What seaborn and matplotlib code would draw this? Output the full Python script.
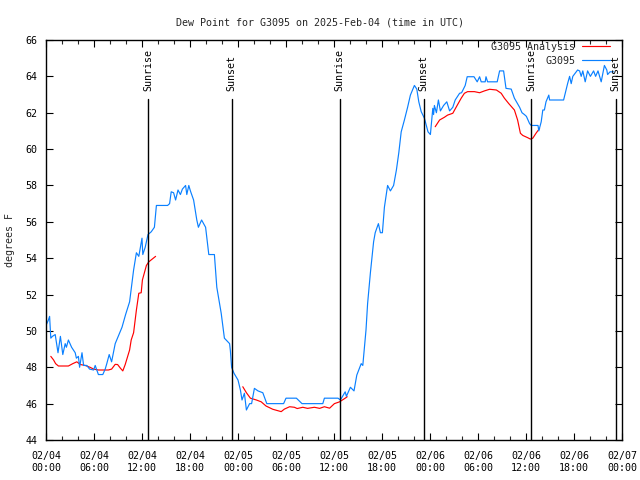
import numpy as np
import pandas as pd
import matplotlib
matplotlib.use("Agg")
import matplotlib.pyplot as plt
import matplotlib.dates as mdates
from matplotlib.lines import Line2D
import seaborn as sns

# ------------------------------------------------------------------
# Data (hours since 2025-02-04 00:00 UTC, dew point in degrees F)
# ------------------------------------------------------------------
START = pd.Timestamp("2025-02-04 00:00")

obs_hours = [
    0.0, 0.3, 0.45, 0.6, 0.8, 1.15, 1.5, 1.8, 2.1, 2.4, 2.55, 2.8, 3.2, 3.65,
    3.8, 4.05, 4.2, 4.5, 4.7, 5.1, 5.45, 5.95, 6.15, 6.55, 7.1, 7.4, 7.6, 7.9,
    8.2, 8.65, 9.5, 9.95, 10.45, 10.95, 11.3, 11.6, 12.0, 12.1, 12.4, 12.75,
    13.15, 13.55, 13.8, 15.2, 15.45, 15.65, 15.95, 16.2, 16.5, 16.8, 17.05,
    17.45, 17.6, 17.85, 18.05, 18.45, 18.85, 19.05, 19.45, 19.95, 20.35, 21.05,
    21.35, 21.9, 22.3, 22.95, 23.05, 23.2, 23.5, 24.0, 24.3, 24.5, 24.8, 25.05,
    25.45, 25.7, 26.05, 26.5, 27.1, 27.6, 29.7, 30.0, 31.3, 32.0, 34.6, 34.8,
    36.5, 36.8, 37.4, 37.55, 38.05, 38.5, 38.85, 39.4, 39.6, 39.8, 40.0, 40.2,
    40.55, 40.8, 40.95, 41.15, 41.55, 41.8, 42.05, 42.3, 42.7, 43.05, 43.45,
    43.8, 44.1, 44.4, 44.8, 45.2, 45.55, 46.05, 46.35, 46.6, 46.9, 47.3, 47.75,
    48.05, 48.35, 48.45, 48.55, 48.8, 49.05, 49.3, 49.7, 50.1, 50.45, 50.85,
    51.15, 51.7, 51.95, 52.4, 52.65, 53.5, 53.9, 54.2, 54.4, 54.9, 55.0, 55.2,
    56.4, 56.7, 57.2, 57.5, 58.15, 58.55, 59.2, 59.5, 59.8, 60.05, 60.45,
    60.65, 61.5, 61.6, 61.9, 62.1, 62.3, 62.5, 62.85, 62.95, 64.7, 64.95,
    65.2, 65.45, 65.65, 65.85, 66.45, 66.7, 66.9, 67.1, 67.4, 67.7, 68.05,
    68.45, 68.7, 69.0, 69.4, 69.8, 70.1, 70.2, 70.5, 70.95,
]
obs_dewpt = [
    50.3, 50.6, 50.8, 49.6, 49.7, 49.8, 48.8, 49.7, 48.7, 49.3, 49.1, 49.5,
    49.1, 48.8, 48.5, 48.6, 48.0, 48.8, 48.1, 48.1, 47.9, 47.85, 48.1, 47.6,
    47.6, 47.9, 48.2, 48.7, 48.3, 49.3, 50.2, 50.9, 51.6, 53.35, 54.3, 54.1,
    55.1, 54.2, 54.6, 55.3, 55.45, 55.7, 56.9, 56.9, 57.0, 57.65, 57.6, 57.2,
    57.75, 57.5, 57.8, 58.0, 57.5, 58.0, 57.7, 57.2, 56.1, 55.7, 56.1, 55.7,
    54.2, 54.2, 52.4, 50.97, 49.6, 49.3, 48.9, 48.0, 47.67, 47.3, 46.75, 46.2,
    46.57, 45.65, 46.0, 46.0, 46.84, 46.7, 46.6, 46.0, 46.0, 46.3, 46.3, 46.0,
    46.0, 46.3, 46.3, 46.2, 46.65, 46.4, 46.9, 46.7, 47.57, 48.2, 48.1, 49.1,
    50.05, 51.5, 53.2, 54.3, 54.9, 55.4, 55.9, 55.4, 55.4, 56.8, 58.0, 57.7,
    58.0, 58.85, 59.8, 60.95, 61.6, 62.3, 62.97, 63.5, 63.3, 62.6, 62.06, 61.7,
    60.95, 60.8, 62.24, 61.9, 62.4, 62.0, 62.7, 62.1, 62.4, 62.6, 62.1, 62.3,
    62.7, 63.07, 63.1, 63.5, 63.98, 63.98, 63.7, 63.98, 63.7, 63.7, 63.98,
    63.7, 63.7, 64.3, 64.3, 63.34, 63.3, 62.8, 62.3, 62.0, 61.9, 61.8, 61.4,
    61.3, 61.3, 61.0, 61.5, 62.15, 62.15, 62.6, 62.97, 62.7, 62.7, 63.16,
    63.6, 64.0, 63.6, 64.0, 64.35, 64.3, 64.0, 64.3, 63.7, 64.3, 64.0, 64.3,
    64.0, 64.3, 63.7, 64.6, 64.35, 64.1, 64.25, 64.25,
]

ana_hours = [
    0.6, 0.95, 1.2, 1.55, 2.8, 3.35, 3.85, 4.3, 4.9, 5.5, 5.95, 6.55, 7.8,
    8.2, 8.65, 8.95, 9.3, 9.6, 9.9, 10.45, 10.65, 10.95, 11.3, 11.6, 11.9,
    12.05, 12.55, 12.85, 13.7,
    24.6, 25.05, 25.55, 26.3, 26.9, 27.5, 28.35, 29.4, 29.8, 30.45, 31.05,
    31.4, 32.1, 32.7, 33.55, 34.2, 34.8, 35.45, 36.05, 36.7, 37.4, 37.65,
    48.65, 49.2, 49.8, 50.2, 50.85, 51.3, 51.9, 52.3, 52.7, 53.55, 54.2,
    54.8, 55.45, 56.3, 56.9, 57.3, 57.85, 58.55, 58.95, 59.3, 59.6, 60.2,
    60.55, 60.85, 61.25, 61.7,
]
ana_dewpt = [
    48.6, 48.4, 48.2, 48.07, 48.07, 48.2, 48.3, 48.15, 48.1, 48.0, 47.9,
    47.85, 47.85, 47.9, 48.16, 48.15, 47.95, 47.8, 48.15, 48.95, 49.5, 49.9,
    51.15, 52.07, 52.1, 52.8, 53.6, 53.8, 54.1,
    46.93, 46.6, 46.3, 46.2, 46.1, 45.87, 45.69, 45.56, 45.7, 45.83, 45.8,
    45.73, 45.8, 45.74, 45.8, 45.74, 45.83, 45.75, 46.0, 46.1, 46.3, 46.38,
    61.23, 61.6, 61.75, 61.87, 61.97, 62.33, 62.8, 63.07, 63.16, 63.16, 63.1,
    63.2, 63.29, 63.25, 63.07, 62.8, 62.5, 62.15, 61.6, 60.87, 60.75, 60.63,
    60.55, 60.6, 60.87, 61.14,
]
# analysis runs come in three separate pieces
ana_segment = [0] * 29 + [1] * 22 + [2] * 26

sun_hours = [12.75, 23.2, 36.73, 47.2, 60.65, 71.2]
sun_labels = ["Sunrise", "Sunset", "Sunrise", "Sunset", "Sunrise", "Sunset"]

RED = "#ff0000"
BLUE = "#0a80ff"

# ------------------------------------------------------------------
# Build frames
# ------------------------------------------------------------------
obs = pd.DataFrame({
    "time": START + pd.to_timedelta(obs_hours, unit="h"),
    "dewpt": obs_dewpt,
})
ana = pd.DataFrame({
    "time": START + pd.to_timedelta(ana_hours, unit="h"),
    "dewpt": ana_dewpt,
    "seg": ana_segment,
})

# ------------------------------------------------------------------
# Styling
# ------------------------------------------------------------------
sns.set_theme(style="ticks")
plt.rcParams["font.family"] = ["DejaVu Sans Mono"]
plt.rcParams["font.size"] = 7.2

fig = plt.figure(figsize=(6.4, 4.8), dpi=100)
ax = fig.add_axes([46 / 640, 40 / 480, 576 / 640, 400 / 480])

sns.lineplot(data=ana, x="time", y="dewpt", units="seg", estimator=None,
             color=RED, lw=0.85, ax=ax)
sns.lineplot(data=obs, x="time", y="dewpt", color=BLUE, lw=0.85, ax=ax)

# sunrise / sunset markers
for h, lab in zip(sun_hours, sun_labels):
    t = START + pd.Timedelta(hours=h)
    ax.axvline(t, ymin=0, ymax=0.8525, color="black", lw=1.0)
    ax.text(t, 0.872, lab, transform=ax.get_xaxis_transform(),
            rotation=90, ha="center", va="bottom", fontsize=7.2,
            color="black")

ax.set_xlim(START, START + pd.Timedelta(hours=72))
ax.set_ylim(44, 66)
ax.set_yticks(np.arange(44, 67, 2))

ax.xaxis.set_major_locator(mdates.HourLocator(byhour=[0, 6, 12, 18]))
ax.xaxis.set_minor_locator(mdates.HourLocator(byhour=range(0, 24, 2)))
ax.xaxis.set_major_formatter(mdates.DateFormatter("%m/%d\n%H:%M"))

ax.tick_params(axis="both", which="major", direction="in", length=5,
               width=0.8, top=True, right=True, labelsize=7.2,
               colors="black")
ax.tick_params(axis="x", which="major", pad=8)
ax.tick_params(axis="y", which="major", pad=6)
ax.tick_params(axis="x", which="minor", direction="in", length=3,
               width=0.8, top=True, bottom=True)

for sp in ax.spines.values():
    sp.set_color("black")
    sp.set_linewidth(1.0)

ax.set_xlabel("")
ax.set_ylabel("degrees F", fontsize=7.2)
ax.yaxis.set_label_coords(-0.053, 0.5)

fig.suptitle("Dew Point for G3095 on 2025-Feb-04 (time in UTC)",
             fontsize=7.2, y=0.963)

handles = [Line2D([], [], color=RED, lw=0.85),
           Line2D([], [], color=BLUE, lw=0.85)]
ax.legend(handles, ["G3095 Analysis", "G3095"], loc="upper right",
          frameon=False, markerfirst=False, fontsize=7.2,
          handlelength=2.8, handletextpad=0.7, labelspacing=0.38,
          borderaxespad=0.0, borderpad=0.0,
          bbox_to_anchor=(1 - 12 / 576, 1 - 2 / 400))

fig.savefig("out.png", dpi=100)
